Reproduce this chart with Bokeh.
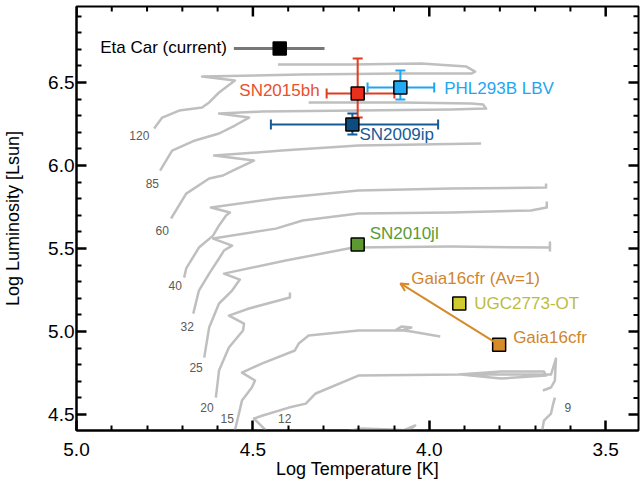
import numpy as np
from bokeh.plotting import figure
from bokeh.models import Range1d, FixedTicker, NumeralTickFormatter, Arrow, OpenHead, ColumnDataSource
from bokeh.core.properties import value
from bokeh.embed import file_html
from bokeh.resources import INLINE

FONT = "Liberation Sans"

# ---------------- axes ----------------
x_start, x_end = 5.0, 3.407
y_start, y_end = 4.404, 6.958
major_x = [5.0, 4.5, 4.0, 3.5]
major_y = [4.5, 5.0, 5.5, 6.0, 6.5]
minor_x = [round(v, 2) for v in np.arange(3.5, 5.0, 0.1) if round(v * 10) % 5 != 0]
minor_y = [round(v, 2) for v in np.arange(4.5, 6.95, 0.1) if round(v * 10) % 5 != 0]

# ---------------- evolutionary tracks (log T, log L) ----------------
track_masses = ["120", "85", "60", "40", "32", "25", "20", "15", "12", "9"]
label_T = [4.822, 4.785, 4.757, 4.720, 4.686, 4.661, 4.630, 4.573, 4.410, 3.607]
label_L = [6.181, 5.892, 5.608, 5.277, 5.030, 4.783, 4.542, 4.476, 4.476, 4.542]

t120_T = [4.780, 4.757, 4.709, 4.644, 4.624, 4.596, 4.551, 4.644, 4.362, 4.079, 3.881, 3.870, 3.895, 4.023, 4.220, 4.429]
t120_L = [6.223, 6.289, 6.331, 6.349, 6.380, 6.440, 6.512, 6.536, 6.548, 6.554, 6.554, 6.566, 6.596, 6.614, 6.608, 6.608]

t85_T = [4.763, 4.729, 4.664, 4.596, 4.551, 4.511, 4.596, 4.475, 4.201, 3.938, 3.839, 3.847, 3.881, 4.079, 4.342]
t85_L = [5.970, 6.090, 6.151, 6.193, 6.241, 6.289, 6.313, 6.325, 6.331, 6.337, 6.343, 6.367, 6.373, 6.380, 6.380]

t60_T = [4.732, 4.689, 4.624, 4.585, 4.557, 4.497, 4.610, 4.418, 4.201, 3.853]
t60_L = [5.681, 5.831, 5.922, 5.940, 5.970, 6.030, 6.060, 6.090, 6.120, 6.133]

t40_T = [4.695, 4.689, 4.653, 4.613, 4.596, 4.576, 4.565, 4.619, 4.435, 4.201, 3.938, 3.669, 3.669]
t40_L = [5.325, 5.380, 5.506, 5.578, 5.639, 5.699, 5.717, 5.747, 5.801, 5.849, 5.861, 5.867, 5.892]

t32_T = [4.669, 4.653, 4.624, 4.596, 4.582, 4.559, 4.613, 4.435, 4.359, 4.201, 3.938, 3.712, 3.667, 3.667]
t32_L = [5.108, 5.247, 5.349, 5.440, 5.488, 5.518, 5.560, 5.620, 5.669, 5.711, 5.717, 5.729, 5.747, 5.783]

t25_T = [4.638, 4.624, 4.596, 4.559, 4.537, 4.582, 4.407, 4.215, 3.938, 3.658, 3.658, 3.658]
t25_L = [4.843, 5.024, 5.169, 5.247, 5.313, 5.349, 5.428, 5.506, 5.512, 5.506, 5.536, 5.482]

t20_T = [4.605, 4.596, 4.568, 4.528, 4.525, 4.568, 4.511, 4.395, 4.395]
t20_L = [4.602, 4.765, 4.904, 5.006, 5.048, 5.096, 5.139, 5.205, 5.235]

t15_T = [4.551, 4.531, 4.503, 4.494, 4.531, 4.475, 4.381, 4.370, 4.342, 4.201, 4.079, 4.051, 4.079, 4.093, 4.051, 3.969]
t15_L = [4.404, 4.584, 4.663, 4.705, 4.753, 4.807, 4.886, 4.928, 4.976, 5.006, 5.006, 5.024, 5.030, 5.012, 5.000, 4.970]

t12_T = [4.463, 4.497, 4.472, 4.398, 4.350, 4.322, 4.201, 3.918, 3.797, 3.675, 3.669, 3.797, 3.910, 3.655, 3.641, 3.644, 3.655, 3.678]
t12_L = [4.404, 4.476, 4.494, 4.542, 4.566, 4.627, 4.735, 4.741, 4.759, 4.759, 4.735, 4.717, 4.741, 4.741, 4.837, 4.705, 4.663, 4.645]

t9_T = [3.644, 3.650, 3.655, 3.675, 3.681]
t9_L = [4.602, 4.554, 4.506, 4.464, 4.392]

tlow_T = [4.234, 4.192, 4.107, 4.059, 4.040, 4.073]
tlow_L = [4.398, 4.416, 4.410, 4.404, 4.434, 4.404]

tracks_T = [t120_T, t85_T, t60_T, t40_T, t32_T, t25_T, t20_T, t15_T, t12_T, t9_T, tlow_T]
tracks_L = [t120_L, t85_L, t60_L, t40_L, t32_L, t25_L, t20_L, t15_L, t12_L, t9_L, tlow_L]

# ---------------- objects ----------------
obj_names = ["Eta Car (current)", "SN2015bh", "PHL293B LBV", "SN2009ip", "SN2010jl", "UGC2773-OT", "Gaia16cfr"]
obj_T = [4.424, 4.203, 4.082, 4.218, 4.203, 3.915, 3.802]
obj_L = [6.705, 6.434, 6.470, 6.247, 5.524, 5.169, 4.920]

# error bars for the first four objects
err_T_hot = [4.554, 4.291, 4.175, 4.449]
err_T_cool = [4.297, 4.099, 3.986, 3.975]
err_L_lo = [None, 6.290, 6.398, 6.187]
err_L_hi = [None, 6.645, 6.572, 6.313]

# extinction-corrected Gaia16cfr (Av=1)
gaia_av_T = 4.082
gaia_av_L = 5.290

# ---------------- styles ----------------
fill_colors = ["#000000", "#e8301c", "#22aaf5", "#0c4c7e", "#5c9a30", "#d0cc30", "#d68a28"]
text_colors = ["#000000", "#e8502e", "#1ea6f2", "#175b96", "#5a9b35", "#bcbc3c", "#cf852d"]
err_colors = ["#777777", "#e23c1e", "#1ea6f2", "#175b96"]
TRACK_COLOR = "#bfbfbf"
ORANGE = "#d68a28"

p = figure(width=640, height=484, x_range=Range1d(x_start, x_end), y_range=Range1d(y_start, y_end),
           output_backend="svg", toolbar_location=None,
           x_axis_label="Log Temperature [K]", y_axis_label="Log Luminosity [Lsun]",
           min_border_left=74, min_border_right=2, min_border_top=6, min_border_bottom=54)
p.grid.visible = False
p.outline_line_color = "black"
p.outline_line_width = 2
p.background_fill_color = "white"
p.border_fill_color = "white"

def style_axis(ax, ticker):
    ax.ticker = ticker
    ax.formatter = NumeralTickFormatter(format="0.0")
    ax.axis_line_width = 2
    ax.axis_line_color = "black"
    ax.major_tick_in = 10
    ax.major_tick_out = 0
    ax.minor_tick_in = 5
    ax.minor_tick_out = 0
    ax.major_tick_line_width = 2.5
    ax.minor_tick_line_width = 2
    ax.major_tick_line_color = "black"
    ax.minor_tick_line_color = "black"
    ax.major_label_text_font = FONT
    ax.major_label_text_font_size = "19px"
    ax.major_label_text_color = "black"
    ax.axis_label_text_font = FONT
    ax.axis_label_text_font_size = "18px"
    ax.axis_label_text_font_style = "normal"
    ax.axis_label_text_color = "black"

style_axis(p.xaxis[0], FixedTicker(ticks=major_x, minor_ticks=minor_x))
style_axis(p.yaxis[0], FixedTicker(ticks=major_y, minor_ticks=minor_y))
p.xaxis[0].major_label_standoff = 12
p.xaxis[0].axis_label_standoff = 0
p.yaxis[0].major_label_standoff = 2
p.yaxis[0].axis_label_standoff = 22

# top and right inward ticks (clipped to the frame, so only the inner half shows)
p.scatter(x=major_x, y=[y_end] * len(major_x), marker="dash", angle=np.pi / 2, size=20,
          line_color="black", line_width=2.5)
p.scatter(x=minor_x, y=[y_end] * len(minor_x), marker="dash", angle=np.pi / 2, size=10,
          line_color="black", line_width=2)
p.scatter(x=[x_end] * len(major_y), y=major_y, marker="dash", size=20, line_color="black", line_width=2.5)
p.scatter(x=[x_end] * len(minor_y), y=minor_y, marker="dash", size=10, line_color="black", line_width=2)

# tracks
p.multi_line(xs=tracks_T, ys=tracks_L, line_color=TRACK_COLOR, line_width=2.5, line_join="round")
p.text(x=label_T, y=label_L, text=track_masses, text_color="#5a5a5a", text_font=value(FONT),
       text_font_size="12px", text_align="center", text_baseline="middle")

# error bars
eta_src = ColumnDataSource(dict(x0=[err_T_hot[0]], x1=[err_T_cool[0]], y=[obj_L[0]]))
p.segment(x0="x0", y0="y", x1="x1", y1="y", source=eta_src, line_color=err_colors[0], line_width=3)

eb = ColumnDataSource(dict(
    x0=err_T_hot[1:], x1=err_T_cool[1:], y=obj_L[1:4], x=obj_T[1:4],
    ylo=err_L_lo[1:], yhi=err_L_hi[1:], c=err_colors[1:]))
p.segment(x0="x0", y0="y", x1="x1", y1="y", source=eb, line_color="c", line_width=2)
p.segment(x0="x", y0="ylo", x1="x", y1="yhi", source=eb, line_color="c", line_width=2)
p.scatter(x="x0", y="y", source=eb, marker="dash", angle=np.pi / 2, size=10, line_color="c", line_width=2)
p.scatter(x="x1", y="y", source=eb, marker="dash", angle=np.pi / 2, size=10, line_color="c", line_width=2)
p.scatter(x="x", y="ylo", source=eb, marker="dash", size=10, line_color="c", line_width=2)
p.scatter(x="x", y="yhi", source=eb, marker="dash", size=10, line_color="c", line_width=2)

# extinction arrow
p.add_layout(Arrow(x_start=obj_T[6], y_start=obj_L[6], x_end=gaia_av_T, y_end=gaia_av_L,
                   line_color=ORANGE, line_width=2,
                   end=OpenHead(size=8, line_color=ORANGE, line_width=2)))

# markers
src = ColumnDataSource(dict(x=obj_T, y=obj_L, fill=fill_colors))
p.scatter(x="x", y="y", source=src, marker="square", size=13, fill_color="fill",
          line_color="black", line_width=1.5)

# labels
lab_x = [err_T_hot[0], err_T_hot[1], err_T_cool[2], obj_T[3], obj_T[4], obj_T[5], obj_T[6], gaia_av_T]
lab_y = [obj_L[0], obj_L[1], obj_L[2], obj_L[3], obj_L[4], obj_L[5], obj_L[6], gaia_av_L]
lab_text = obj_names + ["Gaia16cfr (Av=1)"]
lab_col = text_colors + [text_colors[6]]
lab_dx = [-7, -7, 10, 7, 12, 15, 14, 11]
lab_dy = [-1, -3, 1, 10, -11, 0, -7, -5]
lab_align = ["right", "right", "left", "left", "left", "left", "left", "left"]
ls = ColumnDataSource(dict(x=lab_x, y=lab_y, t=lab_text, c=lab_col, dx=lab_dx, dy=lab_dy, a=lab_align))
p.text(x="x", y="y", text="t", source=ls, text_color="c", x_offset="dx", y_offset="dy",
       text_align="a", text_baseline="middle", text_font=value(FONT), text_font_size="17px")

open("out.html", "w").write(file_html(p, INLINE))
